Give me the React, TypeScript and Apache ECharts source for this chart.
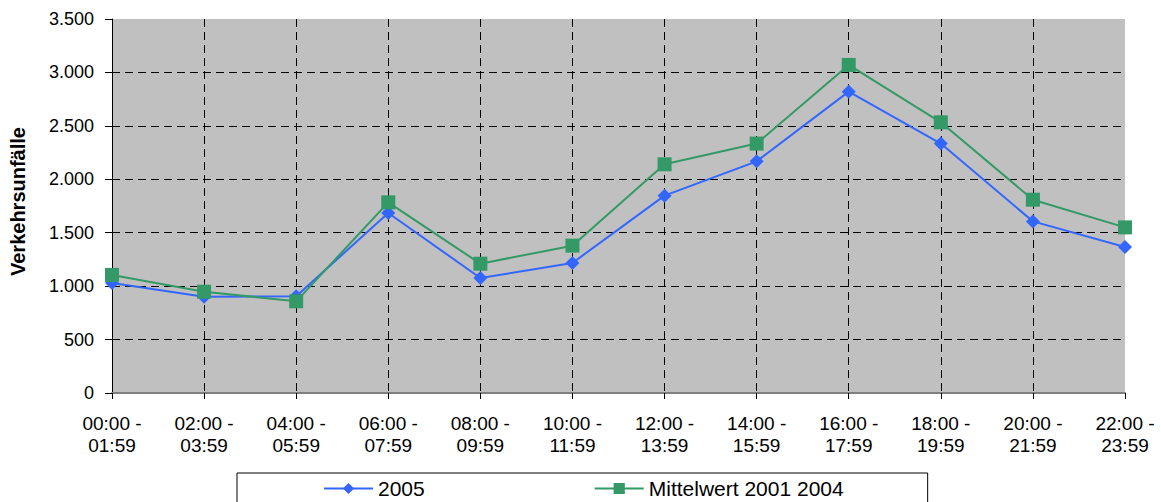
import React, { useEffect, useRef } from "react";
import * as echarts from "echarts";

const categories = [
  "00:00 -\n01:59",
  "02:00 -\n03:59",
  "04:00 -\n05:59",
  "06:00 -\n07:59",
  "08:00 -\n09:59",
  "10:00 -\n11:59",
  "12:00 -\n13:59",
  "14:00 -\n15:59",
  "16:00 -\n17:59",
  "18:00 -\n19:59",
  "20:00 -\n21:59",
  "22:00 -\n23:59",
];
const series2005 = [1030, 900, 905, 1685, 1076, 1217, 1847, 2168, 2820, 2334, 1606, 1367];
const seriesMittel = [1105, 948, 858, 1784, 1210, 1379, 2140, 2334, 3070, 2533, 1809, 1550];
const seriesNames = ["2005", "Mittelwert 2001 2004"];
const yAxisTitle = "Verkehrsunfälle";

const FONT = "'Liberation Sans', Arial, sans-serif";

export default function App() {
  const ref = useRef<HTMLDivElement>(null);
  useEffect(() => {
    if (!ref.current) return;
    const chart = echarts.init(ref.current, undefined, { renderer: "svg" });
    chart.setOption({
      animation: false,
      backgroundColor: "#ffffff",
      textStyle: { fontFamily: FONT },
      grid: {
        left: 111,
        right: 36,
        top: 19,
        bottom: 109,
        show: true,
        backgroundColor: "#c0c0c0",
        borderWidth: 0,
      },
      legend: {
        left: 237,
        top: 473,
        padding: [5, 84, 30, 86],
        itemGap: 169,
        itemWidth: 49,
        itemHeight: 14,
        borderColor: "#000000",
        borderWidth: 1,
        textStyle: { fontFamily: FONT, fontSize: 21, color: "#000000" },
        data: seriesNames,
      },
      xAxis: {
        type: "category",
        data: categories,
        boundaryGap: false,
        axisLine: { show: true, lineStyle: { color: "#808080", width: 2 } },
        axisTick: { show: true, length: 6, lineStyle: { color: "#000000" } },
        axisLabel: {
          interval: 0,
          margin: 19,
          fontFamily: FONT,
          fontSize: 19,
          lineHeight: 22,
          color: "#000000",
        },
        splitLine: {
          show: true,
          showMaxLine: false,
          lineStyle: { color: "#000000", type: [8, 5], width: 1 },
        },
      },
      yAxis: {
        type: "value",
        min: 0,
        max: 3500,
        interval: 500,
        name: yAxisTitle,
        nameLocation: "middle",
        nameRotate: 90,
        nameGap: 84,
        nameTextStyle: {
          fontFamily: FONT,
          fontSize: 20,
          fontWeight: "bold",
          color: "#000000",
          padding: [0, 0, 0, 9],
        },
        axisLine: { show: true, lineStyle: { color: "#000000", width: 1 } },
        axisTick: { show: true, length: 7, lineStyle: { color: "#000000" } },
        axisLabel: {
          margin: 18,
          fontFamily: FONT,
          fontSize: 18,
          color: "#000000",
          formatter: (v: number) => v.toLocaleString("de-DE"),
        },
        splitLine: {
          show: true,
          showMaxLine: false,
          lineStyle: { color: "#000000", type: [8, 5], width: 1 },
        },
      },
      series: [
        {
          name: seriesNames[0],
          type: "line",
          data: series2005,
          symbol: "diamond",
          symbolSize: 14,
          itemStyle: { color: "#3366ff" },
          lineStyle: { color: "#3366ff", width: 2 },
        },
        {
          name: seriesNames[1],
          type: "line",
          data: seriesMittel,
          symbol: "rect",
          symbolSize: 14,
          itemStyle: { color: "#339966" },
          lineStyle: { color: "#339966", width: 2 },
        },
      ],
    });
    return () => chart.dispose();
  }, []);
  return (
    <div
      ref={ref}
      style={{ position: "fixed", left: 0, top: 0, width: 1161, height: 502 }}
    />
  );
}
